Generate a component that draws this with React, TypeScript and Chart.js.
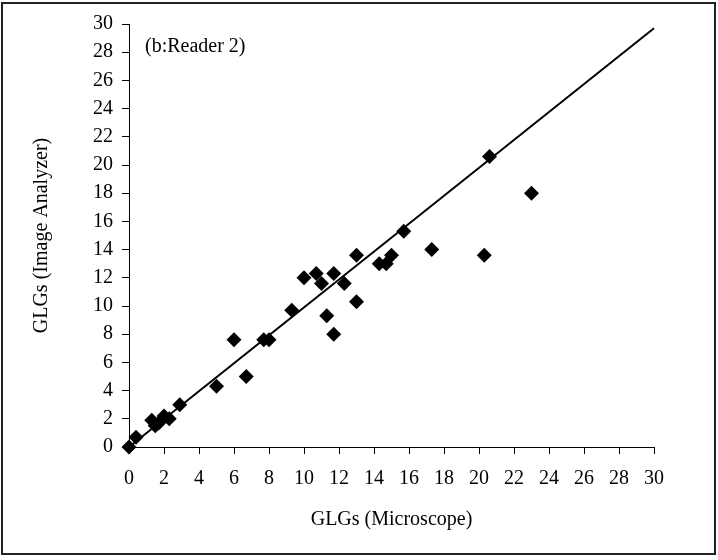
import React, { useEffect, useRef } from "react";
import { Chart, registerables } from "chart.js";

Chart.register(...registerables);

const microscope: number[] = [0, 0.4, 1.3, 1.5, 1.7, 2.0, 2.3, 2.9, 5.0, 6.0, 6.7, 7.7, 8.0, 9.3, 10.0, 10.7, 11.0, 11.3, 11.7, 11.7, 12.3, 13.0, 13.0, 14.3, 14.7, 15.0, 15.7, 17.3, 20.3, 20.6, 23.0];
const imageAnalyzer: number[] = [0, 0.7, 1.9, 1.5, 1.7, 2.2, 2.0, 3.0, 4.3, 7.6, 5.0, 7.6, 7.6, 9.7, 12.0, 12.3, 11.6, 9.3, 12.3, 8.0, 11.6, 13.6, 10.3, 13.0, 13.0, 13.6, 15.3, 14.0, 13.6, 20.6, 18.0];
const fitLineX: number[] = [0, 30];
const fitLineY: number[] = [0, 29.7];
const axisMin = 0;
const axisMax = 30;
const axisStep = 2;
const xTitle = "GLGs (Microscope)";
const yTitle = "GLGs (Image Analyzer)";
const annotation = "(b:Reader 2)";

const FONT = '"Liberation Serif", "Times New Roman", serif';

export default function App() {
  const ref = useRef<HTMLCanvasElement | null>(null);

  useEffect(() => {
    if (!ref.current) return;
    const extras = {
      id: "extras",
      afterDraw(chart: any) {
        const ctx = chart.ctx;
        ctx.save();
        ctx.strokeStyle = "#222";
        ctx.lineWidth = 2;
        ctx.strokeRect(2, 3, 713, 551);
        ctx.fillStyle = "#000";
        ctx.font = `20px ${FONT}`;
        ctx.textAlign = "left";
        ctx.textBaseline = "middle";
        ctx.fillText(annotation, 145, 47);
        ctx.restore();
      },
    };
    const chart = new Chart(ref.current, {
      type: "scatter",
      data: {
        datasets: [
          {
            label: "points",
            data: microscope.map((x, i) => ({ x, y: imageAnalyzer[i] })),
            backgroundColor: "#000",
            borderColor: "#000",
            borderWidth: 0,
            pointStyle: "rectRot",
            pointRadius: 7.5,
            clip: false,
          } as any,
          {
            type: "line",
            label: "fit",
            data: fitLineX.map((x, i) => ({ x, y: fitLineY[i] })),
            borderColor: "#000",
            borderWidth: 2,
            pointRadius: 0,
            fill: false,
            clip: false,
          } as any,
        ],
      },
      options: {
        animation: false,
        responsive: false,
        devicePixelRatio: 1,
        events: [],
        layout: { padding: { left: 0, top: 24, right: 64, bottom: 0 } },
        plugins: {
          legend: { display: false },
          tooltip: { enabled: false },
        },
        scales: {
          x: {
            type: "linear",
            min: axisMin,
            max: axisMax,
            ticks: {
              stepSize: axisStep,
              color: "#000",
              font: { family: FONT, size: 20 },
              padding: 13,
              maxRotation: 0,
            },
            grid: { display: true, drawOnChartArea: false, drawTicks: true, tickLength: 7, color: "#000" },
            border: { display: true, color: "#000", width: 1 },
            title: {
              display: true,
              text: xTitle,
              color: "#000",
              font: { family: FONT, size: 20 },
              padding: { top: 0, bottom: 28 },
            },
            afterFit(scale: any) {
              scale.height = 113;
            },
          },
          y: {
            type: "linear",
            min: axisMin,
            max: axisMax,
            ticks: {
              stepSize: axisStep,
              color: "#000",
              font: { family: FONT, size: 20 },
              padding: 9,
            },
            grid: { display: true, drawOnChartArea: false, drawTicks: true, tickLength: 7, color: "#000" },
            border: { display: true, color: "#000", width: 1 },
            title: {
              display: true,
              text: yTitle,
              color: "#000",
              font: { family: FONT, size: 20 },
              padding: { top: 30, bottom: 0 },
            },
            afterFit(scale: any) {
              scale.width = 129;
            },
          },
        },
      },
      plugins: [extras],
    });
    return () => chart.destroy();
  }, []);

  return (
    <div style={{ position: "absolute", left: 0, top: 0, width: 718, height: 560, background: "#fff" }}>
      <canvas ref={ref} width={718} height={560} />
    </div>
  );
}
